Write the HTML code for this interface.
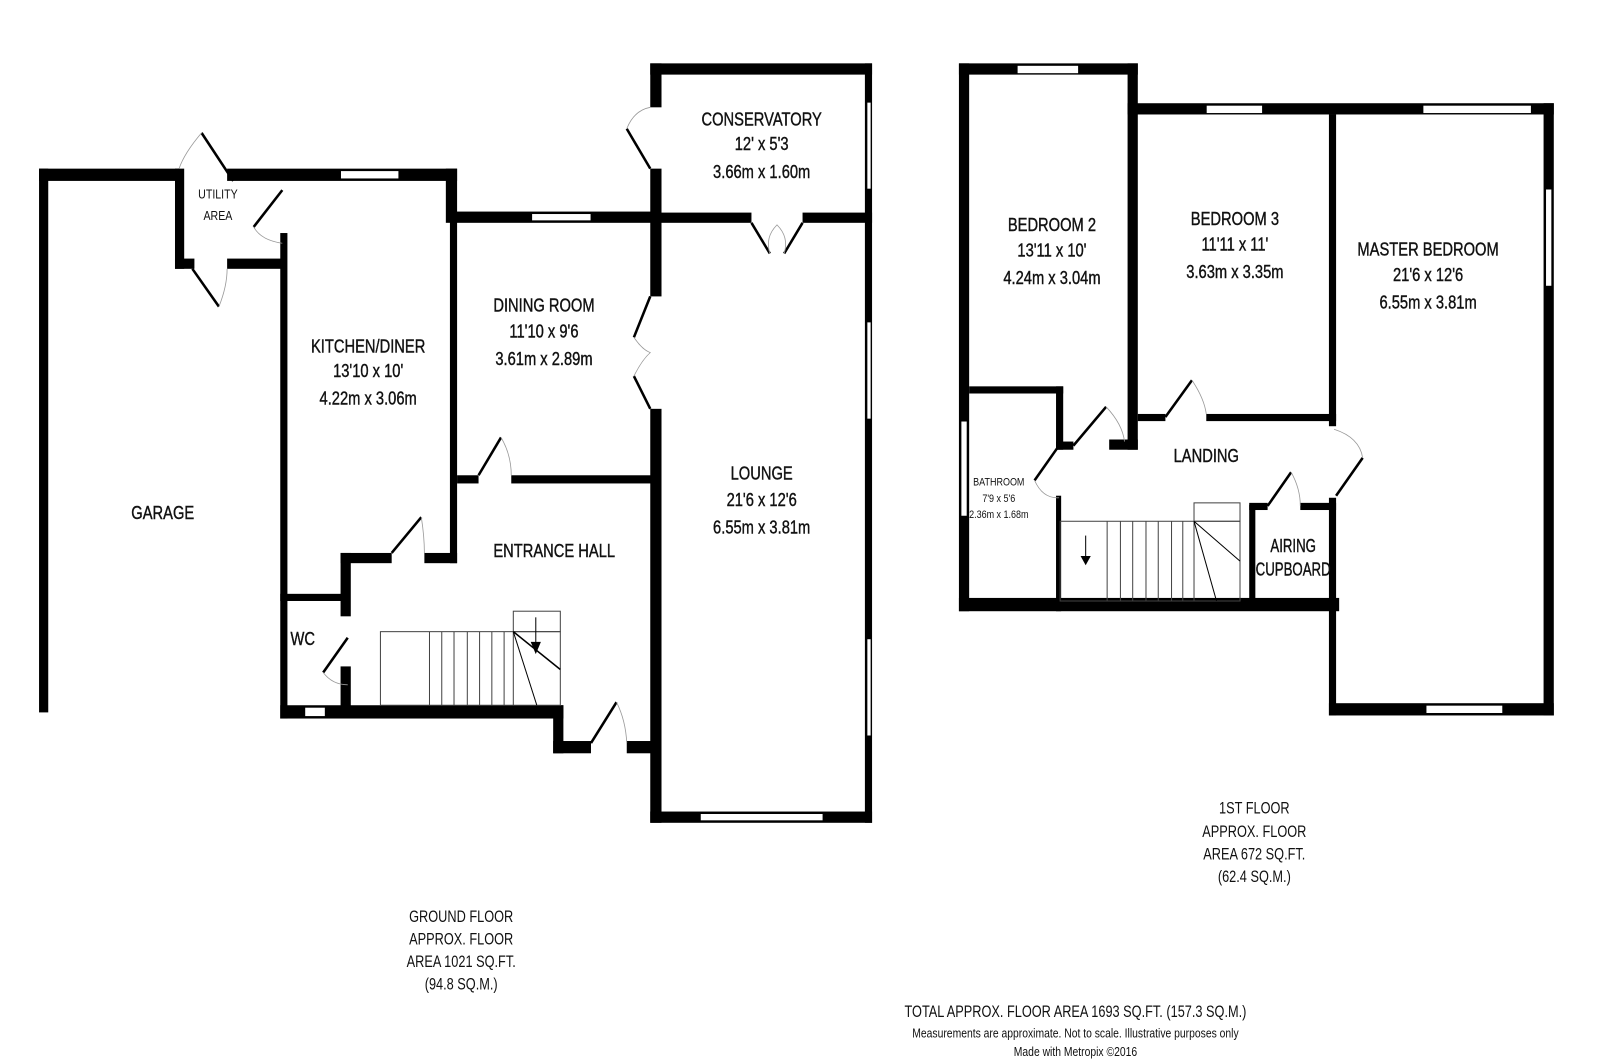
<!DOCTYPE html>
<html><head><meta charset="utf-8"><style>
html,body{margin:0;padding:0;background:#fff;}
svg{display:block;}
text{font-family:"Liberation Sans",sans-serif;fill:#111;}
.r{font-size:18px;}
.r text{stroke:#111;stroke-width:0.4;}
.s{font-size:13px;}
.f{font-size:16px;}
</style></head><body>
<svg width="1600" height="1064" viewBox="0 0 1565 1041" xmlns="http://www.w3.org/2000/svg">
<rect width="1565" height="1041" fill="#fff"/>
<g fill="#000">
<!-- GROUND FLOOR -->
<rect x="38" y="165" width="9" height="532"/>
<rect x="38" y="165" width="137" height="12"/>
<rect x="222" y="165" width="225" height="12"/>
<rect x="171" y="165" width="9" height="98"/>
<rect x="171" y="253" width="19" height="10"/>
<rect x="222" y="253" width="56" height="10"/>
<rect x="274" y="228" width="7" height="475"/>
<rect x="436" y="165" width="11" height="53"/>
<rect x="440" y="207" width="200" height="11"/>
<rect x="440" y="207" width="7" height="344"/>
<rect x="415" y="541" width="32" height="10"/>
<rect x="333" y="541" width="50" height="10"/>
<rect x="333" y="541" width="10" height="62"/>
<rect x="333" y="652" width="10" height="48"/>
<rect x="274" y="581" width="66" height="7"/>
<rect x="274" y="690" width="277" height="13"/>
<rect x="541" y="690" width="10" height="47"/>
<rect x="541" y="725" width="37" height="12"/>
<rect x="613" y="725" width="30" height="12"/>
<rect x="447" y="465" width="21" height="8"/>
<rect x="500" y="465" width="140" height="8"/>
<rect x="636" y="62" width="11" height="43"/>
<rect x="636" y="165" width="11" height="125"/>
<rect x="636" y="400" width="11" height="405"/>
<rect x="636" y="62" width="217" height="11"/>
<rect x="846" y="62" width="7" height="743"/>
<rect x="640" y="208" width="95" height="10"/>
<rect x="785" y="208" width="68" height="10"/>
<rect x="636" y="794" width="217" height="11"/>
<!-- FIRST FLOOR -->
<rect x="938" y="62" width="10" height="536"/>
<rect x="938" y="62" width="175" height="11"/>
<rect x="1103" y="62" width="10" height="378"/>
<rect x="1085" y="430" width="28" height="10"/>
<rect x="1103" y="101" width="417" height="11"/>
<rect x="1510" y="101" width="10" height="599"/>
<rect x="1300" y="112" width="7" height="305"/>
<rect x="1113" y="405" width="27" height="7"/>
<rect x="1180" y="405" width="127" height="7"/>
<rect x="1300" y="487" width="7" height="213"/>
<rect x="1300" y="688" width="220" height="12"/>
<rect x="948" y="378" width="92" height="7"/>
<rect x="1033" y="378" width="7" height="62"/>
<rect x="1033" y="432" width="17" height="8"/>
<rect x="1033" y="485" width="5" height="113"/>
<rect x="938" y="585" width="372" height="13"/>
<rect x="1222" y="494" width="6" height="94"/>
<rect x="1222" y="492" width="18" height="7"/>
<rect x="1272" y="492" width="35" height="7"/>
</g>
<!-- windows -->
<g fill="#fff" stroke="#000" stroke-width="0.8">
<rect x="333" y="167" width="57" height="8"/>
<rect x="520" y="209" width="58" height="7"/>
<rect x="298" y="692" width="20" height="9"/>
<rect x="848" y="100" width="4" height="85"/>
<rect x="848" y="315" width="4" height="95"/>
<rect x="848" y="625" width="4" height="95"/>
<rect x="685" y="796" width="120" height="7"/>
<rect x="995" y="64" width="60" height="8"/>
<rect x="1180" y="103" width="55" height="8"/>
<rect x="1392" y="103" width="106" height="8"/>
<rect x="1512" y="185" width="6" height="95"/>
<rect x="1395" y="690" width="75" height="8"/>
<rect x="940" y="412" width="6" height="93"/>
</g>
<!-- doors -->
<g stroke="#000" stroke-width="2.5" fill="none">
<line x1="197" y1="130" x2="228" y2="177"/>
<line x1="248" y1="222" x2="276" y2="186"/>
<line x1="188" y1="263" x2="214" y2="300"/>
<line x1="613" y1="126" x2="636" y2="165"/>
<line x1="735" y1="218" x2="753" y2="248"/>
<line x1="785" y1="218" x2="767" y2="248"/>
<line x1="636" y1="290" x2="620" y2="330"/>
<line x1="636" y1="400" x2="620" y2="368"/>
<line x1="468" y1="465" x2="490" y2="428"/>
<line x1="383" y1="541" x2="412" y2="506"/>
<line x1="316" y1="658" x2="340" y2="624"/>
<line x1="578" y1="727" x2="603" y2="687"/>
<line x1="1050" y1="436" x2="1082" y2="398"/>
<line x1="1140" y1="408" x2="1166" y2="372"/>
<line x1="1038" y1="433" x2="1012" y2="470"/>
<line x1="1307" y1="485" x2="1333" y2="448"/>
<line x1="1240" y1="495" x2="1263" y2="462"/>
</g>
<g stroke="#999" stroke-width="0.8" fill="none">
<path d="M197 130 Q180 150 175 165"/>
<path d="M248 222 Q255 235 276 238"/>
<path d="M214 300 Q222 280 222 263"/>
<path d="M613 126 Q620 108 636 105"/>
<path d="M753 248 Q748 232 760 220 Q772 232 767 248"/>
<path d="M620 330 Q628 342 636 345 Q628 352 620 368"/>
<path d="M490 428 Q500 445 500 465"/>
<path d="M412 506 Q415 525 415 541"/>
<path d="M316 658 Q325 670 340 670"/>
<path d="M603 687 Q612 705 613 727"/>
<path d="M1082 398 Q1098 415 1100 432"/>
<path d="M1166 372 Q1178 390 1180 405"/>
<path d="M1012 470 Q1020 488 1036 487"/>
<path d="M1333 448 Q1330 428 1305 420"/>
<path d="M1263 462 Q1272 478 1272 495"/>
</g>
<!-- stairs ground -->
<g stroke="#444" stroke-width="1" fill="none">
<rect x="372" y="618" width="176" height="72"/>
<rect x="502" y="598" width="46" height="20"/>
<line x1="420" y1="618" x2="420" y2="690"/><line x1="432" y1="618" x2="432" y2="690"/>
<line x1="444" y1="618" x2="444" y2="690"/><line x1="457" y1="618" x2="457" y2="690"/>
<line x1="469" y1="618" x2="469" y2="690"/><line x1="481" y1="618" x2="481" y2="690"/>
<line x1="493" y1="618" x2="493" y2="690"/><line x1="502" y1="618" x2="502" y2="690"/>
<line x1="502" y1="618" x2="548" y2="655" stroke="#000" stroke-width="1.5"/>
<line x1="502" y1="618" x2="525" y2="690" stroke="#000"/>
<line x1="524" y1="604" x2="524" y2="636" stroke="#000"/>
</g>
<polygon points="519,628 529,628 524,640" fill="#000"/>
<!-- stairs first -->
<g stroke="#444" stroke-width="1" fill="none">
<rect x="1037" y="510" width="176" height="78"/>
<rect x="1168" y="492" width="45" height="18"/>
<line x1="1083" y1="510" x2="1083" y2="588"/><line x1="1096" y1="510" x2="1096" y2="588"/>
<line x1="1108" y1="510" x2="1108" y2="588"/><line x1="1121" y1="510" x2="1121" y2="588"/>
<line x1="1133" y1="510" x2="1133" y2="588"/><line x1="1146" y1="510" x2="1146" y2="588"/>
<line x1="1157" y1="510" x2="1157" y2="588"/><line x1="1168" y1="510" x2="1168" y2="588"/>
<line x1="1168" y1="510" x2="1213" y2="549" stroke="#000"/>
<line x1="1168" y1="510" x2="1190" y2="588" stroke="#000"/>
<line x1="1062" y1="524" x2="1062" y2="548" stroke="#000"/>
</g>
<polygon points="1057,544 1067,544 1062,553" fill="#000"/>
<!-- labels -->
<g class="r" text-anchor="middle">
<text transform="translate(745,123) scale(0.8,1)">CONSERVATORY</text>
<text transform="translate(745,147) scale(0.8,1)">12' x 5'3</text>
<text transform="translate(745,174) scale(0.8,1)">3.66m x 1.60m</text>
<text transform="translate(532,305) scale(0.8,1)">DINING ROOM</text>
<text transform="translate(532,330) scale(0.8,1)">11'10 x 9'6</text>
<text transform="translate(532,357) scale(0.8,1)">3.61m x 2.89m</text>
<text transform="translate(360,345) scale(0.8,1)">KITCHEN/DINER</text>
<text transform="translate(360,369) scale(0.8,1)">13'10 x 10'</text>
<text transform="translate(360,396) scale(0.8,1)">4.22m x 3.06m</text>
<text transform="translate(745,469) scale(0.8,1)">LOUNGE</text>
<text transform="translate(745,495) scale(0.8,1)">21'6 x 12'6</text>
<text transform="translate(745,522) scale(0.8,1)">6.55m x 3.81m</text>
<text transform="translate(159,508) scale(0.8,1)">GARAGE</text>
<text transform="translate(542,545) scale(0.8,1)">ENTRANCE HALL</text>
<text transform="translate(296,631) scale(0.8,1)">WC</text>
<text transform="translate(1029,226) scale(0.8,1)">BEDROOM 2</text>
<text transform="translate(1029,251) scale(0.8,1)">13'11 x 10'</text>
<text transform="translate(1029,278) scale(0.8,1)">4.24m x 3.04m</text>
<text transform="translate(1208,220) scale(0.8,1)">BEDROOM 3</text>
<text transform="translate(1208,245) scale(0.8,1)">11'11 x 11'</text>
<text transform="translate(1208,272) scale(0.8,1)">3.63m x 3.35m</text>
<text transform="translate(1397,250) scale(0.8,1)">MASTER BEDROOM</text>
<text transform="translate(1397,275) scale(0.8,1)">21'6 x 12'6</text>
<text transform="translate(1397,302) scale(0.8,1)">6.55m x 3.81m</text>
<text transform="translate(1180,452) scale(0.8,1)">LANDING</text>
<text transform="translate(1265,540) scale(0.72,1)">AIRING</text>
<text transform="translate(1265,563) scale(0.72,1)">CUPBOARD</text>
</g>
<g class="s" text-anchor="middle">
<text transform="translate(213,194) scale(0.8,1)">UTILITY</text>
<text transform="translate(213,215) scale(0.8,1)">AREA</text>
<text transform="translate(977,475) scale(0.8,1)" font-size="11">BATHROOM</text>
<text transform="translate(977,491) scale(0.8,1)" font-size="11">7'9 x 5'6</text>
<text transform="translate(977,507) scale(0.8,1)" font-size="11">2.36m x 1.68m</text>
</g>
<g class="f" text-anchor="middle">
<text transform="translate(1227,796) scale(0.78,1)">1ST FLOOR</text>
<text transform="translate(1227,819) scale(0.78,1)">APPROX. FLOOR</text>
<text transform="translate(1227,841) scale(0.78,1)">AREA 672 SQ.FT.</text>
<text transform="translate(1227,863) scale(0.78,1)">(62.4 SQ.M.)</text>
<text transform="translate(451,902) scale(0.78,1)">GROUND FLOOR</text>
<text transform="translate(451,924) scale(0.78,1)">APPROX. FLOOR</text>
<text transform="translate(451,946) scale(0.78,1)">AREA 1021 SQ.FT.</text>
<text transform="translate(451,968) scale(0.78,1)">(94.8 SQ.M.)</text>
<text transform="translate(1052,995) scale(0.78,1)">TOTAL APPROX. FLOOR AREA 1693 SQ.FT. (157.3 SQ.M.)</text>
<text transform="translate(1052,1015) scale(0.78,1)" font-size="13">Measurements are approximate.  Not to scale.  Illustrative purposes only</text>
<text transform="translate(1052,1033) scale(0.78,1)" font-size="13">Made with Metropix ©2016</text>
</g>
</svg>
</body></html>
